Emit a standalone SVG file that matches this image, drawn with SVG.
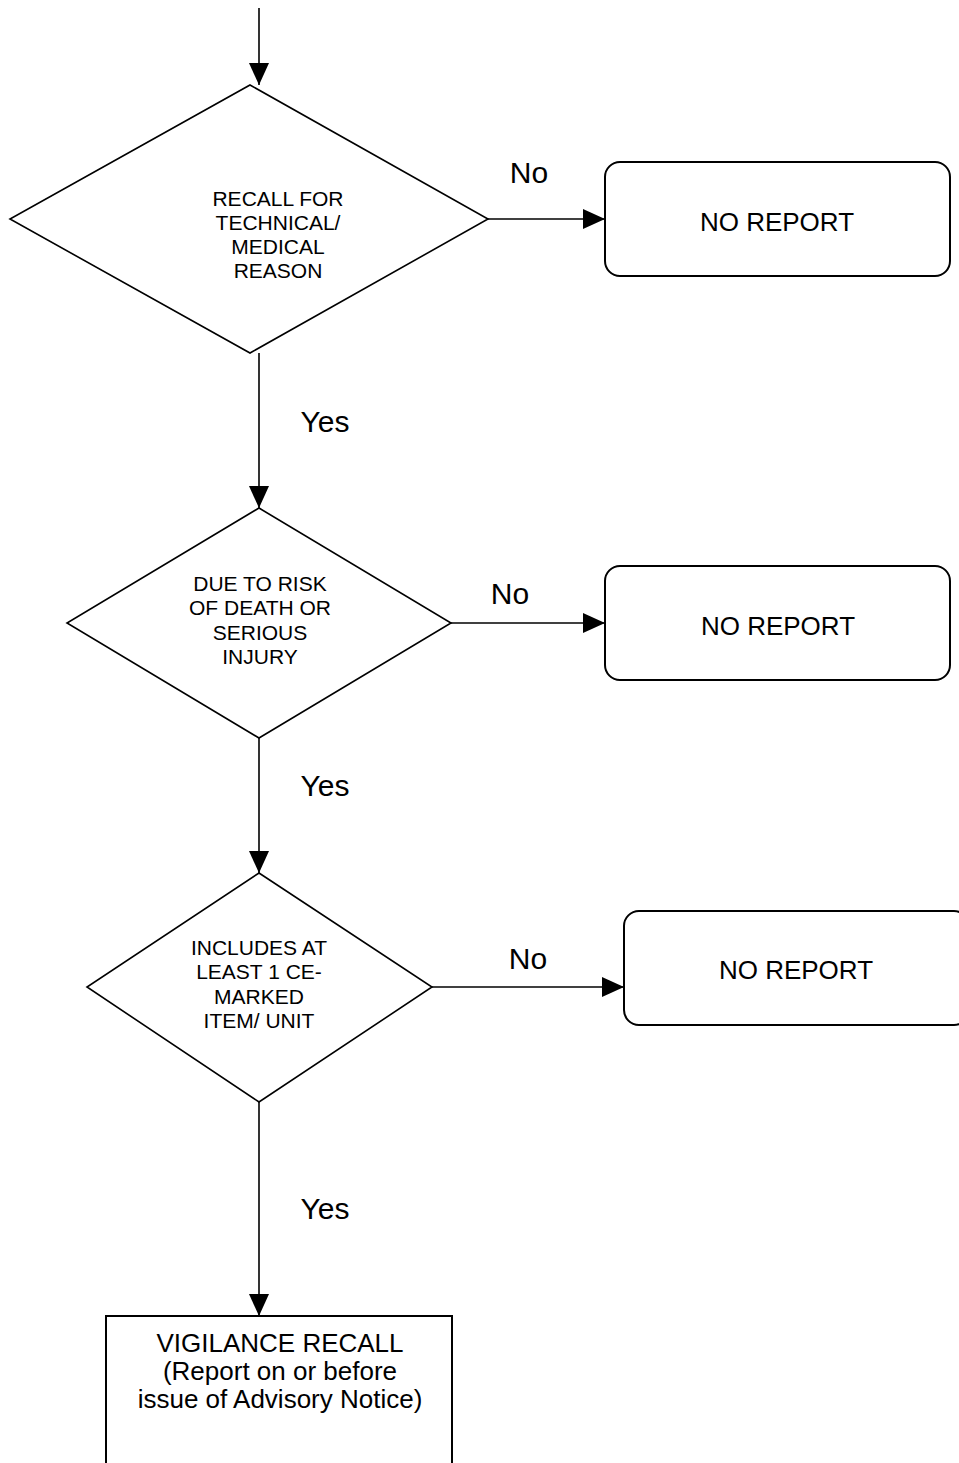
<svg xmlns="http://www.w3.org/2000/svg" width="959" height="1463" viewBox="0 0 959 1463">
<style>
.shape{fill:#fff;stroke:#000;stroke-width:1.6}
.box{fill:#fff;stroke:#000;stroke-width:2}
.conn{fill:none;stroke:#000;stroke-width:1.6}
text{font-family:"Liberation Sans",Arial,sans-serif;fill:#000;text-anchor:middle}
.dt{font-size:21px}
.bt{font-size:26px}
.lbl{font-size:30px}
</style>
<defs>
<marker id="arr" markerUnits="userSpaceOnUse" markerWidth="22" markerHeight="20" refX="22" refY="10" orient="auto">
<path d="M0,0 L22,10 L0,20 z" fill="#000"/>
</marker>
</defs>
<rect width="959" height="1463" fill="#fff"/>
<g id="connectors">
<line class="conn" x1="259" y1="8" x2="259" y2="85" marker-end="url(#arr)"/>
<line class="conn" x1="259" y1="353" x2="259" y2="508" marker-end="url(#arr)"/>
<line class="conn" x1="259" y1="738" x2="259" y2="873" marker-end="url(#arr)"/>
<line class="conn" x1="259" y1="1102" x2="259" y2="1316" marker-end="url(#arr)"/>
<line class="conn" x1="488" y1="219" x2="605" y2="219" marker-end="url(#arr)"/>
<line class="conn" x1="451" y1="623" x2="605" y2="623" marker-end="url(#arr)"/>
<line class="conn" x1="432" y1="987" x2="624" y2="987" marker-end="url(#arr)"/>
<text class="lbl" x="529" y="183">No</text>
<text class="lbl" x="510" y="604">No</text>
<text class="lbl" x="528" y="969">No</text>
<text class="lbl" x="325" y="432">Yes</text>
<text class="lbl" x="325" y="796">Yes</text>
<text class="lbl" x="325" y="1219">Yes</text>
</g>
<g id="d1">
<polygon class="shape" points="250,85 488,219 250,353 10,219"/>
<text class="dt" x="278" y="205.5">RECALL FOR</text>
<text class="dt" x="278" y="229.5">TECHNICAL/</text>
<text class="dt" x="278" y="253.5">MEDICAL</text>
<text class="dt" x="278" y="277.5">REASON</text>
</g>
<g id="nr1">
<rect class="box" x="605" y="162" width="345" height="114" rx="15" ry="15"/>
<text class="bt" x="777" y="231">NO REPORT</text>
</g>
<g id="d2">
<polygon class="shape" points="259,508 451,623 259,738 67,623"/>
<text class="dt" x="260" y="590.5">DUE TO RISK</text>
<text class="dt" x="260" y="615">OF DEATH OR</text>
<text class="dt" x="260" y="639.5">SERIOUS</text>
<text class="dt" x="260" y="664">INJURY</text>
</g>
<g id="nr2">
<rect class="box" x="605" y="566" width="345" height="114" rx="15" ry="15"/>
<text class="bt" x="778" y="635">NO REPORT</text>
</g>
<g id="d3">
<polygon class="shape" points="259,873 432,987 259,1102 87,987"/>
<text class="dt" x="259" y="954.5">INCLUDES AT</text>
<text class="dt" x="259" y="978.5">LEAST 1 CE-</text>
<text class="dt" x="259" y="1003.5">MARKED</text>
<text class="dt" x="259" y="1027.5">ITEM/ UNIT</text>
</g>
<g id="nr3">
<rect class="box" x="624" y="911" width="345" height="114" rx="15" ry="15"/>
<text class="bt" x="796" y="979">NO REPORT</text>
</g>
<g id="vig">
<rect class="box" x="106" y="1316" width="346" height="160"/>
<text class="bt" x="280" y="1352">VIGILANCE RECALL</text>
<text class="bt" x="280" y="1380">(Report on or before</text>
<text class="bt" x="280" y="1408">issue of Advisory Notice)</text>
</g>
</svg>
